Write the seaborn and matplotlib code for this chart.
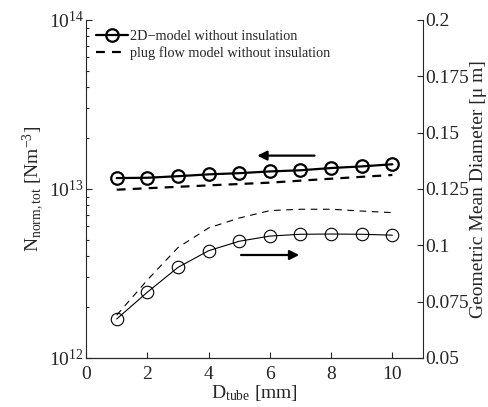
import matplotlib
matplotlib.use("Agg")
import matplotlib.pyplot as plt
import seaborn as sns
import numpy as np
from matplotlib.ticker import LogLocator, NullFormatter, FixedLocator

sns.set_style("ticks")
plt.rcParams['font.family'] = ['Liberation Serif', 'DejaVu Serif']
plt.rcParams['mathtext.fontset'] = 'custom'
plt.rcParams['mathtext.rm'] = 'Liberation Serif'
plt.rcParams['mathtext.it'] = 'Liberation Serif'

d_tube = [1, 2, 3, 4, 5, 6, 7, 8, 9, 10]
n_2d = [1.16e13, 1.165e13, 1.19e13, 1.22e13, 1.24e13, 1.27e13, 1.29e13, 1.33e13, 1.36e13, 1.40e13]
n_plug = [0.99e13, 1.01e13, 1.03e13, 1.05e13, 1.07e13, 1.09e13, 1.12e13, 1.15e13, 1.18e13, 1.21e13]
dg_2d = [0.0673, 0.0792, 0.0902, 0.0976, 0.1018, 0.1041, 0.1049, 0.1050, 0.1049, 0.1045]
dg_plug = [0.0690, 0.0846, 0.0990, 0.1077, 0.1121, 0.1154, 0.1160, 0.1160, 0.1152, 0.1145]

fig = plt.figure(figsize=(4.89, 4.07), dpi=100)
ax = fig.add_axes([0.176, 0.1204, 0.689, 0.8306])
ax2 = ax.twinx()

sns.lineplot(x=d_tube, y=n_2d, ax=ax, color='black', linewidth=1.6, marker='o',
             markersize=9, markerfacecolor='none', markeredgecolor='black',
             markeredgewidth=1.6, label='2D\u2212model without insulation')
sns.lineplot(x=d_tube, y=n_plug, ax=ax, color='black', linewidth=1.6,
             linestyle=(0, (4, 3.2)), label='plug flow model without insulation')

sns.lineplot(x=d_tube, y=dg_2d, ax=ax2, color='black', linewidth=0.8, marker='o',
             markersize=9, markerfacecolor='none', markeredgecolor='black',
             markeredgewidth=0.8, legend=False)
sns.lineplot(x=d_tube, y=dg_plug, ax=ax2, color='black', linewidth=0.8,
             linestyle=(0, (6, 5)), legend=False)

ax.set_yscale('log')
ax.set_xlim(0, 11)
ax.set_ylim(1e12, 1e14)
ax2.set_ylim(0.05, 0.2)
ax.set_xticks([0, 2, 4, 6, 8, 10])
ax.yaxis.set_major_locator(LogLocator(base=10, numticks=5))
ax.yaxis.set_minor_locator(LogLocator(base=10, subs=np.arange(2, 10), numticks=20))
ax.yaxis.set_minor_formatter(NullFormatter())
ax2.yaxis.set_major_locator(FixedLocator([0.05, 0.075, 0.1, 0.125, 0.15, 0.175, 0.2]))
ax2.set_yticklabels(['0.05', '0.075', '0.1', '0.125', '0.15', '0.175', '0.2'])

for a in (ax, ax2):
    a.spines['top'].set_visible(False)
    a.tick_params(which='both', direction='in', labelsize=14, width=0.8, pad=1.5)
    a.tick_params(which='major', length=4)
    a.tick_params(which='minor', length=2.5)
    for s in a.spines.values():
        s.set_linewidth(0.8)
ax.spines['right'].set_visible(False)
ax2.spines['left'].set_visible(False)
ax.tick_params(axis='x', pad=6)

ax.set_xlabel(r'D$_{\mathrm{tube}}$ [mm]', fontsize=14, labelpad=0)
ax.set_ylabel(r'N$_{\mathrm{norm,tot}}$ [Nm$^{-3}$]', fontsize=14, labelpad=2)
ax2.set_ylabel('Geometric Mean Diameter [\u03bc m]', fontsize=14, labelpad=1)

ax.annotate('', xy=(5.5, 1.575e13), xytext=(7.55, 1.575e13),
            arrowprops=dict(arrowstyle='-|>', color='black', lw=1.6, mutation_scale=14))
ax2.annotate('', xy=(7.05, 0.0957), xytext=(4.97, 0.0957),
             arrowprops=dict(arrowstyle='-|>', color='black', lw=1.6, mutation_scale=14))

leg = ax.legend(loc='upper left', frameon=False, fontsize=10.3, handlelength=2.2,
                handletextpad=0.2, borderaxespad=0.3, labelspacing=0.2,
                bbox_to_anchor=(0.0, 1.0))

fig.savefig('out.png', dpi=100)
